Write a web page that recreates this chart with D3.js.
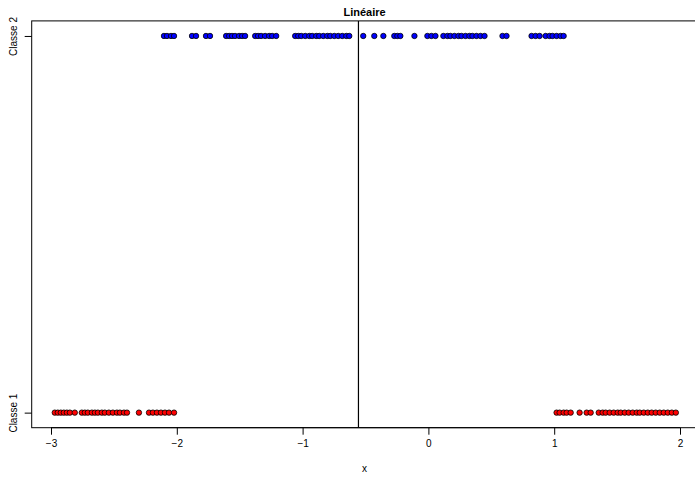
<!DOCTYPE html>
<html>
<head>
<meta charset="utf-8">
<script src="https://cdn.jsdelivr.net/npm/d3@7"></script>
<style>
  html, body { margin: 0; padding: 0; background: #fff; overflow: hidden; }
  svg { display: block; font-family: "Liberation Sans", Arial, sans-serif; }
</style>
</head>
<body>
<svg id="chart" width="695" height="477"></svg>
<script>
// Observations of class 2 (plotted at level 2)
const classe2X = [
  -2.102, -2.078, -2.046, -2.022,
  -1.879, -1.847, -1.768, -1.736,
  -1.608, -1.584, -1.561, -1.537, -1.505, -1.481, -1.457,
  -1.377, -1.354, -1.330, -1.298, -1.266, -1.242, -1.210,
  -1.059, -1.035, -1.011, -0.979, -0.947, -0.924, -0.892, -0.868,
  -0.836, -0.804, -0.780, -0.748, -0.717, -0.685, -0.653, -0.629,
  -0.518, -0.430, -0.358, -0.271, -0.247, -0.223, -0.111,
  -0.008, 0.024, 0.056, 0.119, 0.151, 0.175, 0.207, 0.239, 0.263,
  0.295, 0.326, 0.350, 0.382, 0.414, 0.446, 0.589, 0.621,
  0.820, 0.852, 0.884, 0.932, 0.963, 0.987, 1.019, 1.051, 1.075
];
// Observations of class 1 (plotted at level 1)
const classe1X = [
  -2.970, -2.946, -2.922, -2.898, -2.874, -2.850, -2.811,
  -2.755, -2.731, -2.707, -2.675, -2.651, -2.627, -2.596, -2.572,
  -2.540, -2.508, -2.476, -2.452, -2.420, -2.396, -2.301,
  -2.221, -2.190, -2.158, -2.126, -2.094, -2.062, -2.022,
  1.019, 1.043, 1.075, 1.099, 1.131, 1.202, 1.258, 1.290,
  1.354, 1.385, 1.409, 1.441, 1.473, 1.505, 1.529, 1.561, 1.592,
  1.624, 1.656, 1.680, 1.712, 1.744, 1.775, 1.807, 1.839, 1.871,
  1.903, 1.935, 1.967
];
// Linear decision threshold
const seuil = [-0.556];
const xTicks = [-3, -2, -1, 0, 1, 2];
const yLevels = [1, 2];
const yLabels = ["Classe 1", "Classe 2"];
const titre = "Linéaire";
const xTitre = "x";

const svg = d3.select("#chart");
const box = { left: 31.7, right: 697.5, top: 20.9, bottom: 427.7 };

const x = d3.scaleLinear().domain([-3, 2]).range([51, 680]);
const y = d3.scaleLinear().domain([0.96, 2.04]).range([box.bottom, box.top]);

// Plot frame
svg.append("rect")
  .attr("x", box.left).attr("y", box.top)
  .attr("width", box.right - box.left).attr("height", box.bottom - box.top)
  .attr("fill", "none").attr("stroke", "#000").attr("stroke-width", 1);

// x axis
const xAxis = d3.axisBottom(x).tickValues(xTicks).tickSize(7).tickPadding(5)
  .tickFormat(d => d < 0 ? "\u2212" + Math.abs(d) : String(d));
const gx = svg.append("g").attr("transform", `translate(0,${box.bottom})`).call(xAxis);
gx.select(".domain").attr("d", `M${x(-3)},0H${x(2)}`);
gx.selectAll("text").attr("font-size", 10).attr("fill", "#000")
  .attr("font-family", "Liberation Sans, Arial, sans-serif");

// y axis with class names
const yAxis = d3.axisLeft(y).tickValues(yLevels).tickSize(7)
  .tickFormat((d, i) => yLabels[i]);
const gy = svg.append("g").attr("transform", `translate(${box.left},0)`).call(yAxis);
gy.select(".domain").remove();
gy.selectAll("text")
  .attr("font-size", 10).attr("fill", "#000")
  .attr("font-family", "Liberation Sans, Arial, sans-serif")
  .attr("text-anchor", "middle")
  .attr("x", 0).attr("dy", 0)
  .attr("transform", "translate(-15,0) rotate(-90)");

// Threshold line
svg.selectAll("line.seuil").data(seuil).join("line")
  .attr("class", "seuil")
  .attr("x1", d => x(d)).attr("x2", d => x(d))
  .attr("y1", box.top).attr("y2", box.bottom)
  .attr("stroke", "#000").attr("stroke-width", 1.2);

// Points
svg.append("g").selectAll("circle").data(classe2X).join("circle")
  .attr("cx", d => x(d)).attr("cy", y(2)).attr("r", 2.7)
  .attr("fill", "#0000ff").attr("stroke", "#000").attr("stroke-width", 0.8);
svg.append("g").selectAll("circle").data(classe1X).join("circle")
  .attr("cx", d => x(d)).attr("cy", y(1)).attr("r", 2.7)
  .attr("fill", "#ff0000").attr("stroke", "#000").attr("stroke-width", 0.8);

// Titles
svg.append("text").attr("x", (box.left + box.right) / 2).attr("y", 15.5)
  .attr("text-anchor", "middle").attr("font-size", 11).attr("font-weight", "bold")
  .text(titre);
svg.append("text").attr("x", (box.left + box.right) / 2).attr("y", 472)
  .attr("text-anchor", "middle").attr("font-size", 10)
  .text(xTitre);
</script>
</body>
</html>
